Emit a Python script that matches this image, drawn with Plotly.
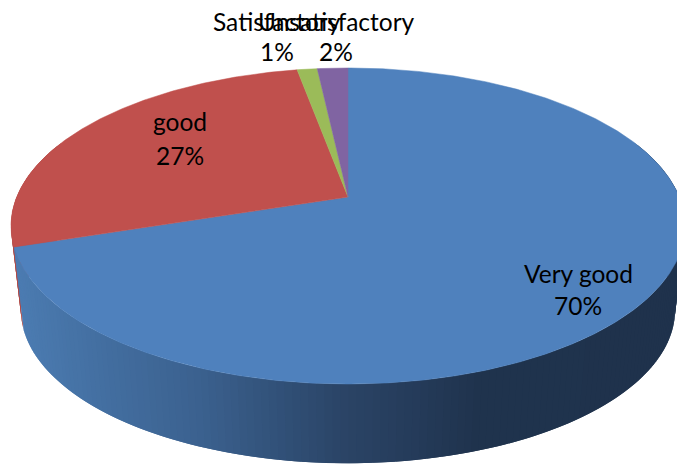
import numpy as np
import plotly.graph_objects as go

categories = ["Very good", "good", "Satisfactory", "Unsatisfactory"]
values = [70.0, 27.1, 1.15, 1.75]
colors = ["#4F81BD", "#C0504D", "#9BBB59", "#8064A2"]
label_x = [578, 180, 277, 336]
name_y = [273, 121, 21, 21]
pct_y = [305, 155, 51, 51]

# projection of the pie disc into page pixels (perspective view)
CX, K = 348, 0.1835
TOP = dict(a=331.3, b=152.7, y0=197)
BOTTOM = dict(a=321.5, b=148.0, y0=282)
# shading of the wall, by page x
WALL_X = [20, 100, 200, 300, 350, 420, 480, 690]
WALL_BLUE = [(76, 124, 178), (68, 112, 162), (60, 98, 144), (48, 78, 116), (43, 68, 102), (37, 59, 90), (32, 52, 78), (31, 50, 76)]
WALL_RED = (176, 72, 69)
STEP = 0.02


def project(theta, p):
    u, v = np.sin(theta), np.cos(theta)
    d = 1 + K * v
    return CX + p["a"] * u / d, p["y0"] - p["b"] * v / d


fig = go.Figure()
fractions = np.cumsum([0] + values) / sum(values)
spans = list(zip(fractions[:-1] * 2 * np.pi, fractions[1:] * 2 * np.pi))

# side wall: strips from the rim of the top disc to the rim of the bottom disc,
# each one running under its neighbour so that no seams show
for i in (1, 0):
    start, end = spans[i]
    edges = np.arange(start, end, STEP)
    for t0 in edges:
        t1 = min(t0 + 2 * STEP, end)
        if np.cos(t0) > 0.35 and np.cos(t1) > 0.35:
            continue
        ts = np.array([t0, t1])
        xt, yt = project(ts, TOP)
        xb, yb = project(ts[::-1], BOTTOM)
        xm = (xt[0] + xb[1]) / 2
        if i == 0:
            rgb = [np.interp(xm, WALL_X, [c[j] for c in WALL_BLUE]) for j in range(3)]
        else:
            rgb = WALL_RED
        col = "rgb(%d,%d,%d)" % tuple(rgb)
        fig.add_trace(go.Scatter(
            x=list(xt) + list(xb), y=list(yt) + list(yb), mode="lines", fill="toself",
            fillcolor=col, line=dict(width=0), hoverinfo="skip", showlegend=False))

# top face
for (start, end), col in zip(spans, colors):
    ts = np.linspace(start, end, max(int((end - start) * 120), 6))
    xt, yt = project(ts, TOP)
    fig.add_trace(go.Scatter(
        x=[CX] + list(xt) + [CX], y=[TOP["y0"]] + list(yt) + [TOP["y0"]], mode="lines", fill="toself",
        fillcolor=col, line=dict(color=col, width=0.5), hoverinfo="skip", showlegend=False))

total = sum(values)
for name, val, lx, ny, py in zip(categories, values, label_x, name_y, pct_y):
    for text, ly in ((name, ny), (f"{round(val / total * 100)}%", py)):
        fig.add_annotation(
            x=lx, y=ly, xref="x", yref="y", showarrow=False, align="center",
            text=text, font=dict(family="Lato", size=24.5, color="#000000"))

# the page body has an 8px margin, so the plot covers page pixels 8..685 and 8..468
fig.update_layout(
    width=677, height=460, margin=dict(l=0, r=0, t=0, b=0),
    paper_bgcolor="white", plot_bgcolor="white", showlegend=False,
    xaxis=dict(range=[8, 685], visible=False, fixedrange=True),
    yaxis=dict(range=[468, 8], visible=False, fixedrange=True),
)
fig.write_html("out.html", config=dict(displayModeBar=False))
